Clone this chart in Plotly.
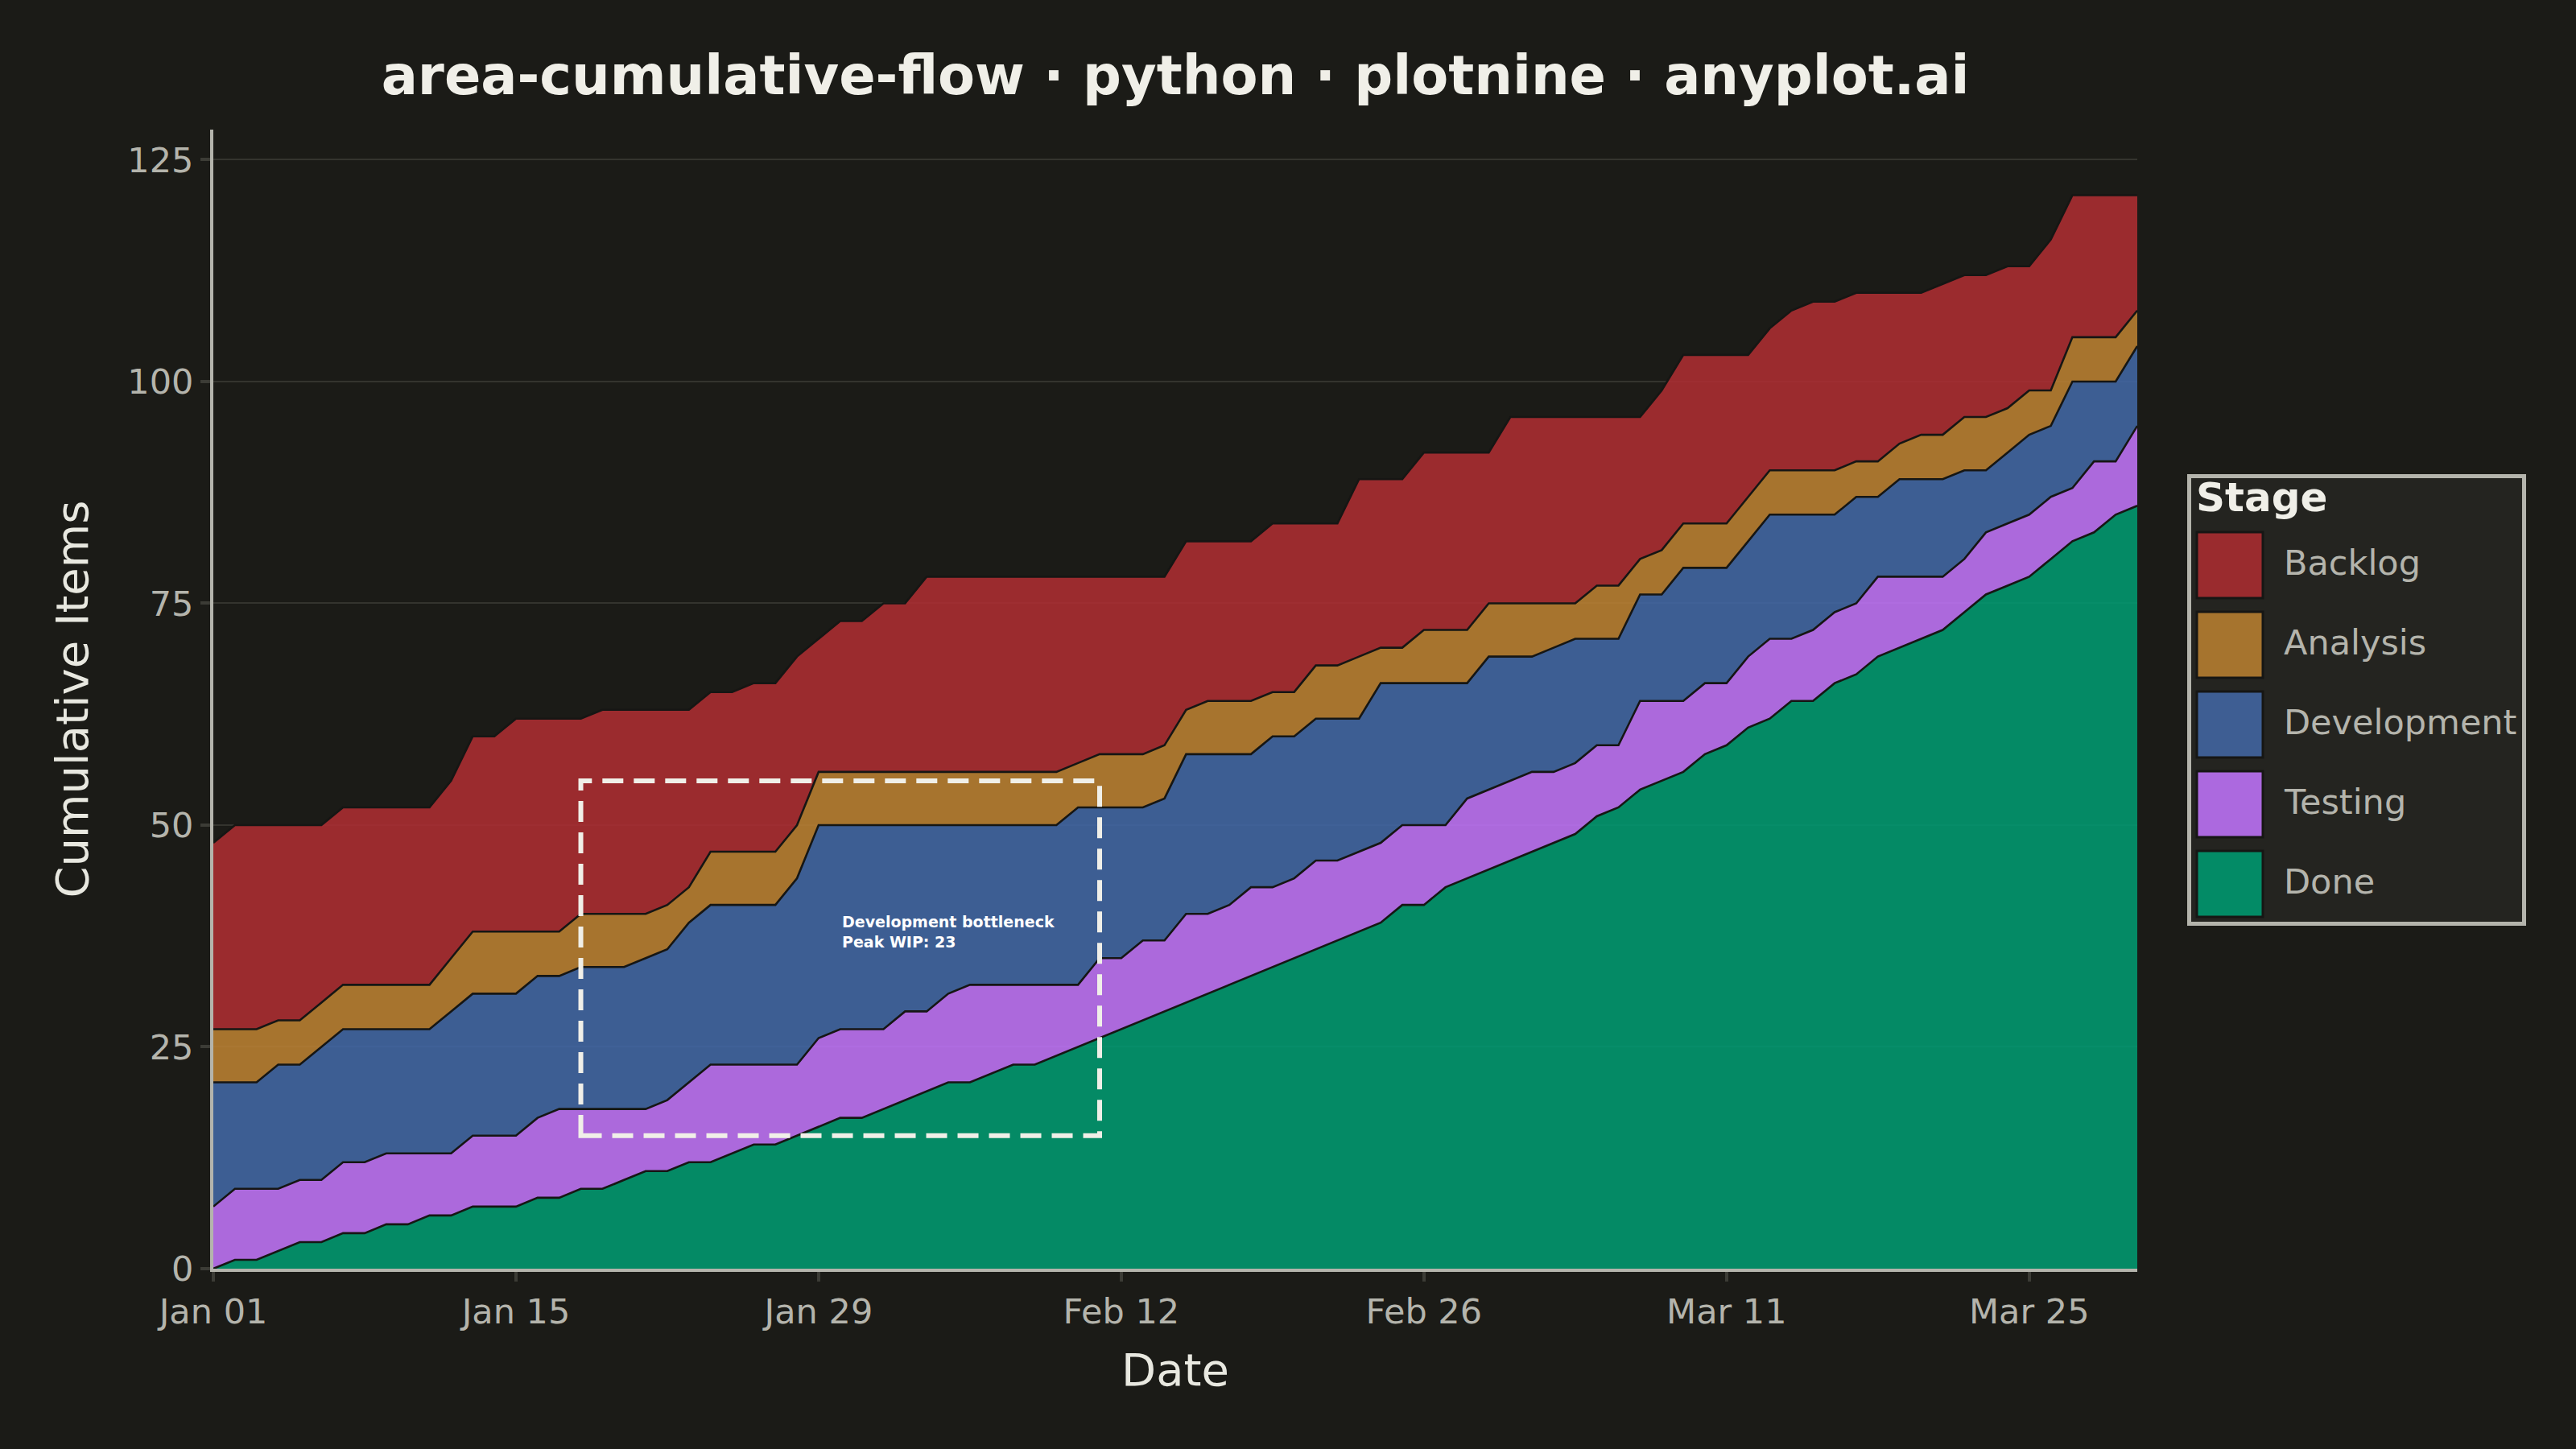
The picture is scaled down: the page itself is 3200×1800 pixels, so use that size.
"""Cumulative flow diagram (dark theme) rebuilt with Plotly."""

import pandas as pd
import plotly.graph_objects as go

# ---------------------------------------------------------------------------
# Data: cumulative item counts per stage boundary, one value per day
# (Jan 01 .. Mar 30, 2024). Each list is the top edge of that stage's band.
# ---------------------------------------------------------------------------
dates = pd.date_range("2024-01-01", "2024-03-30", freq="D")

reached_done = [
    0, 1, 1, 2, 3, 3, 4, 4, 5, 5, 6, 6, 7, 7, 7, 8,
    8, 9, 9, 10, 11, 11, 12, 12, 13, 14, 14, 15, 16, 17, 17,
    18, 19, 20, 21, 21, 22, 23, 23, 24, 25, 26, 27, 28, 29, 30,
    31, 32, 33, 34, 35, 36, 37, 38, 39, 41, 41, 43, 44, 45, 46,
    47, 48, 49, 51, 52, 54, 55, 56, 58, 59, 61, 62, 64, 64, 66,
    67, 69, 70, 71, 72, 74, 76, 77, 78, 80, 82, 83, 85, 86,
]
reached_testing = [
    7, 9, 9, 9, 10, 10, 12, 12, 13, 13, 13, 13, 15, 15, 15, 17,
    18, 18, 18, 18, 18, 19, 21, 23, 23, 23, 23, 23, 26, 27, 27,
    27, 29, 29, 31, 32, 32, 32, 32, 32, 32, 35, 35, 37, 37, 40,
    40, 41, 43, 43, 44, 46, 46, 47, 48, 50, 50, 50, 53, 54, 55,
    56, 56, 57, 59, 59, 64, 64, 64, 66, 66, 69, 71, 71, 72, 74,
    75, 78, 78, 78, 78, 80, 83, 84, 85, 87, 88, 91, 91, 95,
]
reached_development = [
    21, 21, 21, 23, 23, 25, 27, 27, 27, 27, 27, 29, 31, 31, 31, 33,
    33, 34, 34, 34, 35, 36, 39, 41, 41, 41, 41, 44, 50, 50, 50,
    50, 50, 50, 50, 50, 50, 50, 50, 50, 52, 52, 52, 52, 53, 58,
    58, 58, 58, 60, 60, 62, 62, 62, 66, 66, 66, 66, 66, 69, 69,
    69, 70, 71, 71, 71, 76, 76, 79, 79, 79, 82, 85, 85, 85, 85,
    87, 87, 89, 89, 89, 90, 90, 92, 94, 95, 100, 100, 100, 104,
]
reached_analysis = [
    27, 27, 27, 28, 28, 30, 32, 32, 32, 32, 32, 35, 38, 38, 38, 38,
    38, 40, 40, 40, 40, 41, 43, 47, 47, 47, 47, 50, 56, 56, 56,
    56, 56, 56, 56, 56, 56, 56, 56, 56, 57, 58, 58, 58, 59, 63,
    64, 64, 64, 65, 65, 68, 68, 69, 70, 70, 72, 72, 72, 75, 75,
    75, 75, 75, 77, 77, 80, 81, 84, 84, 84, 87, 90, 90, 90, 90,
    91, 91, 93, 94, 94, 96, 96, 97, 99, 99, 105, 105, 105, 108,
]
reached_backlog = [
    48, 50, 50, 50, 50, 50, 52, 52, 52, 52, 52, 55, 60, 60, 62, 62,
    62, 62, 63, 63, 63, 63, 63, 65, 65, 66, 66, 69, 71, 73, 73,
    75, 75, 78, 78, 78, 78, 78, 78, 78, 78, 78, 78, 78, 78, 82,
    82, 82, 82, 84, 84, 84, 84, 89, 89, 89, 92, 92, 92, 92, 96,
    96, 96, 96, 96, 96, 96, 99, 103, 103, 103, 103, 106, 108, 109, 109,
    110, 110, 110, 110, 111, 112, 112, 113, 113, 116, 121, 121, 121, 121,
]

stages = ["Done", "Testing", "Development", "Analysis", "Backlog"]
stage_tops = [reached_done, reached_testing, reached_development,
              reached_analysis, reached_backlog]

# bottleneck highlight
bottleneck_start, bottleneck_end = "2024-01-18", "2024-02-11"
bottleneck_low, bottleneck_high = 15, 55
bottleneck_text = "Development bottleneck<br>Peak WIP: 23"
bottleneck_text_at = ("2024-01-30", 38)

# ---------------------------------------------------------------------------
# Style
# ---------------------------------------------------------------------------
BG = "#1B1B17"
FONT = "DejaVu Sans"
TEXT_LIGHT = "#F0EFE8"
TEXT_MUTED = "#B4B4AC"
STAGE_COLORS = {
    "Backlog": "rgba(178,46,50,0.85)",
    "Analysis": "rgba(191,132,50,0.85)",
    "Development": "rgba(67,106,169,0.85)",
    "Testing": "rgba(198,119,255,0.85)",
    "Done": "rgba(0,158,115,0.85)",
}
SWATCH_COLORS = {
    "Backlog": "#9A2B2E",
    "Analysis": "#A6742E",
    "Development": "#3E5E93",
    "Testing": "#AC69DF",
    "Done": "#038B66",
}

W, H = 3200, 1800
L, R, T, B = 265, 545, 161, 224


def px_x(px):
    return (px - L) / (W - L - R)


def px_y(py):
    return (H - B - py) / (H - T - B)


fig = go.Figure()

for i, (stage, tops) in enumerate(zip(stages, stage_tops)):
    fig.add_trace(go.Scatter(
        x=dates, y=tops, name=stage, mode="lines",
        line=dict(color="#161614", width=2.6),
        fill="tozeroy" if i == 0 else "tonexty",
        fillcolor=STAGE_COLORS[stage],
        showlegend=False,
    ))

# dashed highlight box + label
fig.add_shape(
    type="rect", xref="x", yref="y",
    x0=bottleneck_start, x1=bottleneck_end,
    y0=bottleneck_low, y1=bottleneck_high,
    line=dict(color=TEXT_LIGHT, width=6, dash="26px,13px"),
    fillcolor="rgba(0,0,0,0)",
)
fig.add_annotation(
    x=bottleneck_text_at[0], y=bottleneck_text_at[1], xref="x", yref="y",
    text="<b>" + bottleneck_text.replace("<br>", "</b><br><b>") + "</b>",
    showarrow=False, xanchor="left", yanchor="middle", align="left",
    font=dict(family=FONT, size=19, color="white"),
)

# ---------------------------------------------------------------------------
# Legend drawn by hand (big swatches, framed box)
# ---------------------------------------------------------------------------
fig.add_shape(
    type="rect", xref="paper", yref="paper",
    x0=px_x(2719.5), x1=px_x(3135.5), y0=px_y(1147.5), y1=px_y(591.5),
    line=dict(color="#B4B4AC", width=5), fillcolor="#242420", layer="above",
)
fig.add_annotation(
    x=px_x(2726), y=px_y(618), xref="paper", yref="paper",
    text="<b>Stage</b>", showarrow=False, xanchor="left", yanchor="middle",
    font=dict(family=FONT, size=50, color=TEXT_LIGHT),
)
legend_order = ["Backlog", "Analysis", "Development", "Testing", "Done"]
for k, stage in enumerate(legend_order):
    top = 661 + 99 * k
    fig.add_shape(
        type="rect", xref="paper", yref="paper",
        x0=px_x(2729), x1=px_x(2811), y0=px_y(top + 82), y1=px_y(top),
        line=dict(color="#161614", width=3), fillcolor=SWATCH_COLORS[stage],
        layer="above",
    )
    fig.add_annotation(
        x=px_x(2835), y=px_y(top + 38), xref="paper", yref="paper",
        text=stage, showarrow=False, xanchor="left", yanchor="middle",
        font=dict(family=FONT, size=43, color=TEXT_MUTED),
    )

fig.update_layout(
    width=W, height=H,
    paper_bgcolor=BG, plot_bgcolor=BG,
    margin=dict(l=L, r=R, t=T, b=B, autoexpand=False),
    font=dict(family=FONT, color=TEXT_MUTED),
    title=dict(
        text="<b>area-cumulative-flow · python · plotnine · anyplot.ai</b>",
        xref="paper", x=0.5, xanchor="center", y=1 - 94 / H, yanchor="middle",
        font=dict(family=FONT, size=67, color=TEXT_LIGHT),
    ),
    showlegend=False,
)
fig.update_xaxes(
    type="date", range=["2024-01-01", "2024-03-30"],
    tick0="2024-01-01", dtick=14 * 86400000, tickformat="%b %d",
    showgrid=False, zeroline=False,
    showline=True, linecolor="#B4B4AC", linewidth=4,
    ticks="outside", ticklen=12, tickwidth=4, tickcolor="#3C3C36",
    tickfont=dict(family=FONT, size=43, color=TEXT_MUTED),
    title=dict(text="Date", standoff=30,
               font=dict(family=FONT, size=56, color="#E8E8E0")),
)
fig.update_yaxes(
    range=[0, 128.4], tickvals=[0, 25, 50, 75, 100, 125],
    showgrid=True, gridcolor="#34342E", gridwidth=2, zeroline=False,
    showline=True, linecolor="#B4B4AC", linewidth=4,
    ticks="outside", ticklen=12, tickwidth=4, tickcolor="#3C3C36",
    tickfont=dict(family=FONT, size=43, color=TEXT_MUTED),
    title=dict(text="Cumulative Items", standoff=32,
               font=dict(family=FONT, size=56, color="#E8E8E0")),
)

# page body margin would otherwise leave a white frame round the figure
fig.write_html(
    "out.html",
    config={"displayModeBar": False},
    post_script="document.body.style.margin='0';"
                "document.body.style.background='" + BG + "';",
)
